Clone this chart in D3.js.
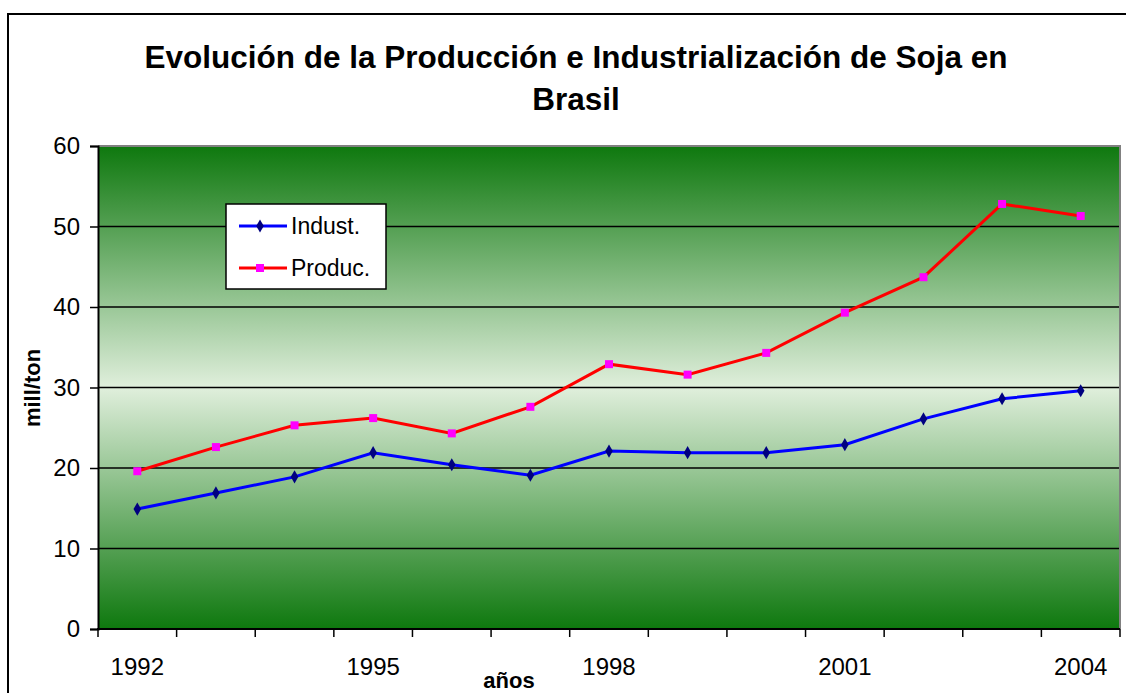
<html>
<head>
	<script src="https://d3js.org/d3.v7.min.js"></script>
	<style>
		body { margin: 0; background: #fff; }
		text { font-family: Arial, "Liberation Sans", sans-serif; }
	</style>
</head>
<body>
	<div id="chart"></div>
</body>
<script>
var years = ["1992","1993","1994","1995","1996","1997","1998","1999","2000","2001","2002","2003","2004"]
var indust = [14.9, 16.9, 18.9, 21.9, 20.4, 19.1, 22.1, 21.9, 21.9, 22.9, 26.1, 28.6, 29.6]
var produc = [19.6, 22.6, 25.3, 26.2, 24.3, 27.6, 32.9, 31.6, 34.3, 39.3, 43.7, 52.8, 51.3]
var yTicks = [0, 10, 20, 30, 40, 50, 60]
var xLabels = ["1992", "1995", "1998", "2001", "2004"]

var W = 1126, H = 693
var plotL = 98, plotR = 1120, plotT = 146, plotB = 629

var svg = d3.select("#chart").append("svg")
	.attr("width", W)
	.attr("height", H)

// outer chart border
svg.append("rect")
	.attr("x", 8).attr("y", 14)
	.attr("width", W + 10).attr("height", H + 10)
	.style("fill", "#fff")
	.style("stroke", "#000")
	.style("stroke-width", 2)

var defs = svg.append("defs")
var grad = defs.append("linearGradient")
	.attr("id", "bg")
	.attr("x1", 0).attr("y1", 0).attr("x2", 0).attr("y2", 1)
grad.append("stop").attr("offset", "0%").attr("stop-color", "#0e780e")
grad.append("stop").attr("offset", "50%").attr("stop-color", "#e0efdc")
grad.append("stop").attr("offset", "100%").attr("stop-color", "#0e780e")

var x = d3.scaleBand().domain(years).range([plotL, plotR]).padding(0)
var y = d3.scaleLinear().domain([0, 60]).range([plotB, plotT])
var cx = function(d){ return x(d) + x.bandwidth() / 2 }

svg.append("rect")
	.attr("x", plotL).attr("y", plotT)
	.attr("width", plotR - plotL).attr("height", plotB - plotT)
	.style("fill", "url(#bg)")

// grid
svg.selectAll(".grid")
	.data(yTicks.filter(function(d){ return d > 0 && d < 60 }))
	.enter().append("line")
	.attr("x1", plotL).attr("x2", plotR)
	.attr("y1", function(d){ return y(d) }).attr("y2", function(d){ return y(d) })
	.style("stroke", "#000").style("stroke-width", 1.3)

// top/right gray border
svg.append("path")
	.attr("d", "M" + plotL + "," + plotT + "H" + plotR + "V" + plotB)
	.style("fill", "none").style("stroke", "#808080").style("stroke-width", 2)

// y axis
var yAxis = svg.append("g")
	.attr("transform", "translate(" + plotL + ",0)")
	.call(d3.axisLeft(y).tickValues(yTicks).tickSize(8).tickPadding(10))
yAxis.select(".domain").style("stroke", "#000").style("stroke-width", 2)
yAxis.selectAll(".tick line").style("stroke", "#000").style("stroke-width", 1.5)
yAxis.selectAll("text").style("font-size", "24px").style("fill", "#000")
	.style("font-family", "Arial, 'Liberation Sans', sans-serif")

// x axis ticks at band edges
var edges = years.map(function(d){ return x(d) }).concat([plotR])
var xAxis = svg.append("g")
xAxis.append("line")
	.attr("x1", plotL - 1).attr("x2", plotR).attr("y1", plotB).attr("y2", plotB)
	.style("stroke", "#000").style("stroke-width", 2)
xAxis.selectAll(".xt")
	.data(edges)
	.enter().append("line")
	.attr("x1", function(d){ return d }).attr("x2", function(d){ return d })
	.attr("y1", plotB).attr("y2", plotB + 8)
	.style("stroke", "#000").style("stroke-width", 1.5)
xAxis.selectAll(".xl")
	.data(xLabels)
	.enter().append("text")
	.attr("x", cx).attr("y", plotB + 46)
	.attr("text-anchor", "middle")
	.style("font-size", "24px")
	.text(function(d){ return d })

// title
svg.append("text")
	.attr("x", 576).attr("y", 68)
	.attr("text-anchor", "middle")
	.style("font-size", "31.5px").style("font-weight", "bold")
	.text("Evolución de la Producción e Industrialización de Soja en")
svg.append("text")
	.attr("x", 576).attr("y", 110)
	.attr("text-anchor", "middle")
	.style("font-size", "31.5px").style("font-weight", "bold")
	.text("Brasil")

// axis titles
svg.append("text")
	.attr("transform", "translate(40,388) rotate(-90)")
	.attr("text-anchor", "middle")
	.style("font-size", "22px").style("font-weight", "bold")
	.text("mill/ton")
svg.append("text")
	.attr("x", 509).attr("y", 688)
	.attr("text-anchor", "middle")
	.style("font-size", "22px").style("font-weight", "bold")
	.text("años")

// lines
var line = d3.line()
	.x(function(d, i){ return cx(years[i]) })
	.y(function(d){ return y(d) })

svg.append("path").datum(produc)
	.attr("d", line)
	.style("fill", "none").style("stroke", "#ff0000").style("stroke-width", 3)
svg.selectAll(".pm").data(produc).enter().append("rect")
	.attr("x", function(d, i){ return cx(years[i]) - 4 })
	.attr("y", function(d){ return y(d) - 4 })
	.attr("width", 8).attr("height", 8)
	.style("fill", "#ff00ff")

svg.append("path").datum(indust)
	.attr("d", line)
	.style("fill", "none").style("stroke", "#0000ff").style("stroke-width", 3)
var diamond = d3.symbol().type(d3.symbolDiamond).size(50)
svg.selectAll(".im").data(indust).enter().append("path")
	.attr("transform", function(d, i){ return "translate(" + cx(years[i]) + "," + y(d) + ")" })
	.attr("d", diamond)
	.style("fill", "#000080")

// legend
var lg = svg.append("g")
lg.append("rect")
	.attr("x", 226).attr("y", 204).attr("width", 160).attr("height", 85)
	.style("fill", "#fff").style("stroke", "#000").style("stroke-width", 1.5)
var legendItems = [
	{ name: "Indust.", color: "#0000ff", mark: "#000080", sym: "d", yy: 226 },
	{ name: "Produc.", color: "#ff0000", mark: "#ff00ff", sym: "s", yy: 268 }
]
legendItems.forEach(function(it){
	lg.append("line")
		.attr("x1", 239).attr("x2", 287).attr("y1", it.yy).attr("y2", it.yy)
		.style("stroke", it.color).style("stroke-width", 3)
	if (it.sym == "d") {
		lg.append("path")
			.attr("transform", "translate(260," + it.yy + ")")
			.attr("d", diamond).style("fill", it.mark)
	} else {
		lg.append("rect")
			.attr("x", 256).attr("y", it.yy - 4).attr("width", 8).attr("height", 8)
			.style("fill", it.mark)
	}
	lg.append("text")
		.attr("x", 291).attr("y", it.yy + 8)
		.style("font-size", "23px")
		.text(it.name)
})
</script>
</html>
